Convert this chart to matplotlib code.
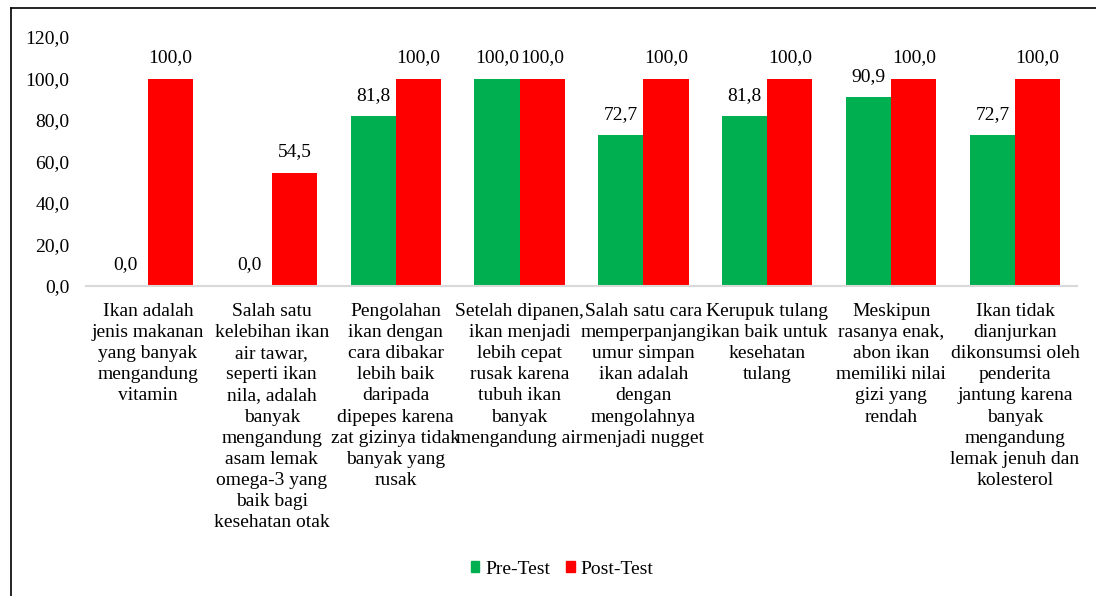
import matplotlib
matplotlib.use("Agg")
import matplotlib.pyplot as plt
from matplotlib.lines import Line2D
from matplotlib.patches import Patch
import numpy as np

categories = [
    "Ikan adalah\njenis makanan\nyang banyak\nmengandung\nvitamin",
    "Salah satu\nkelebihan ikan\nair tawar,\nseperti ikan\nnila, adalah\nbanyak\nmengandung\nasam lemak\nomega-3 yang\nbaik bagi\nkesehatan otak",
    "Pengolahan\nikan dengan\ncara dibakar\nlebih baik\ndaripada\ndipepes karena\nzat gizinya tidak\nbanyak yang\nrusak",
    "Setelah dipanen,\nikan menjadi\nlebih cepat\nrusak karena\ntubuh ikan\nbanyak\nmengandung air",
    "Salah satu cara\nmemperpanjang\numur simpan\nikan adalah\ndengan\nmengolahnya\nmenjadi nugget",
    "Kerupuk tulang\nikan baik untuk\nkesehatan\ntulang",
    "Meskipun\nrasanya enak,\nabon ikan\nmemiliki nilai\ngizi yang\nrendah",
    "Ikan tidak\ndianjurkan\ndikonsumsi oleh\npenderita\njantung karena\nbanyak\nmengandung\nlemak jenuh dan\nkolesterol",
]
pre_test = [0.0, 0.0, 81.8, 100.0, 72.7, 81.8, 90.9, 72.7]
post_test = [100.0, 54.5, 100.0, 100.0, 100.0, 100.0, 100.0, 100.0]
series_names = ["Pre-Test", "Post-Test"]
yticks = [0, 20, 40, 60, 80, 100, 120]

GREEN = "#00B050"
RED = "#FF0000"

plt.rcParams["font.family"] = ["Liberation Serif", "DejaVu Serif"]
FS = 14

fig = plt.figure(figsize=(10.96, 5.96), dpi=100)
ax = fig.add_axes([86/1096, 1-286/596, 991/1096, (286-37)/596])

x = np.arange(len(categories))
w = 0.364
b1 = ax.bar(x - w/2, pre_test, w, color=GREEN, label=series_names[0])
b2 = ax.bar(x + w/2, post_test, w, color=RED, label=series_names[1])

def fmt(v):
    return f"{v:.1f}".replace(".", ",")

for bars, vals in ((b1, pre_test), (b2, post_test)):
    for r, v in zip(bars, vals):
        ax.annotate(fmt(v), (r.get_x() + r.get_width()/2, v),
                    xytext=(0, 9), textcoords="offset points",
                    ha="center", va="bottom", fontsize=FS, color="#000000")

ax.set_xlim(-0.5, len(categories) - 0.5)
ax.set_ylim(0, 120)
ax.set_yticks(yticks)
ax.set_yticklabels([fmt(float(t)) for t in yticks], fontsize=FS)
ax.set_xticks(x)
ax.set_xticklabels(categories, fontsize=FS, ha="center", va="top", linespacing=1.31)
ax.tick_params(axis="both", length=0)
ax.tick_params(axis="y", pad=12)
ax.tick_params(axis="x", pad=12.5)
for s in ("top", "right", "left"):
    ax.spines[s].set_visible(False)
ax.spines["bottom"].set_color("#D9D9D9")
ax.spines["bottom"].set_linewidth(1.5)

handles = [Patch(color=GREEN), Patch(color=RED)]
fig.legend(handles, series_names, loc="center", bbox_to_anchor=(562/1096, 1-569/596),
           ncol=2, frameon=False, fontsize=FS, handlelength=0.45, handleheight=0.45,
           handletextpad=0.3, columnspacing=0.8)

# figure border (left and top only visible)
fig.add_artist(Line2D([10.5/1096, 10.5/1096], [0, 1-8/596], color="black", lw=1.2, transform=fig.transFigure))
fig.add_artist(Line2D([10.5/1096, 1], [1-8/596, 1-8/596], color="black", lw=1.2, transform=fig.transFigure))

fig.savefig("out.png", dpi=100)
